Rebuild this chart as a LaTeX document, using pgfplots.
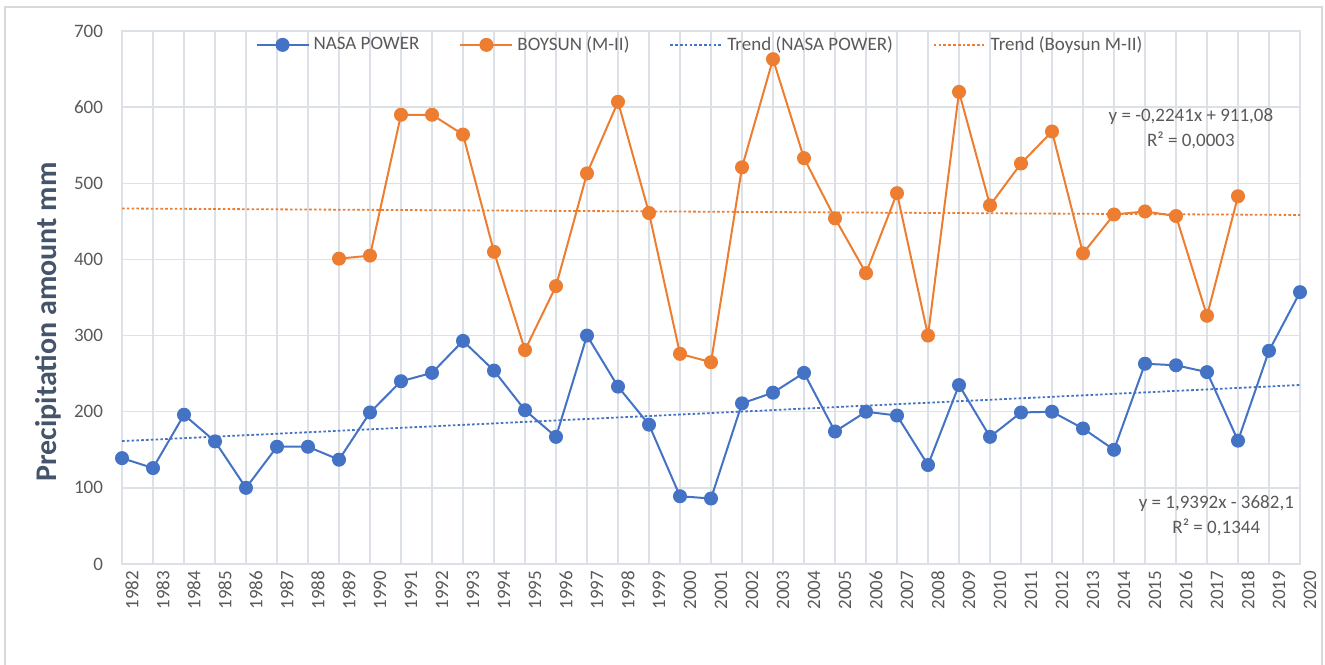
\documentclass[border=0pt]{standalone}
\usepackage{pgfplots}
\pgfplotsset{compat=1.18}
\usepackage{fontspec}
\setmainfont{Carlito}
\definecolor{nasa}{HTML}{4472C4}
\definecolor{boy}{HTML}{ED7D31}
\definecolor{gridc}{HTML}{DCE0E7}
\definecolor{tickc}{HTML}{595959}
\definecolor{labc}{HTML}{44546A}
\definecolor{bordc}{HTML}{D9D9D9}
\begin{document}
\begin{tikzpicture}
\path[use as bounding box] (0,0) rectangle (662.5pt,332pt);
\draw[bordc, line width=0.8pt] (2.5pt,-2pt) -- (2.5pt,328.5pt) -- (661pt,328.5pt) -- (661pt,-2pt);
\begin{axis}[
  at={(61pt,50pt)}, anchor=south west,
  scale only axis, width=589pt, height=266.5pt,
  xmin=1982, xmax=2020, ymin=0, ymax=700,
  xtick={1982,1983,...,2020}, ytick={0,100,...,700},
  grid=major, major grid style={gridc, line width=0.7pt},
  axis line style={gridc, line width=0.7pt},
  major tick length=0pt,
  /pgf/number format/assume math mode=true,
  /pgf/number format/1000 sep={},
  tick label style={font=\fontsize{9.5}{11}\selectfont, text=tickc},
  x tick label style={rotate=90, anchor=east, yshift=-5pt, xshift=0pt},
  y tick label style={xshift=-6pt},
  ylabel={Precipitation amount mm},
  ylabel style={at={(axis description cs:-0.0628,0.454)}, anchor=center, font=\fontsize{15}{18}\selectfont\bfseries, text=labc},
  legend columns=4,
  legend style={at={(0.4915,0.974)}, anchor=center, draw=none, fill=none,
    font=\fontsize{9.5}{11}\selectfont, text=tickc,
    /tikz/every even column/.append style={column sep=18pt}},
  legend cell align=left,
  legend image code/.code={\draw[mark repeat=2,mark phase=2] plot coordinates {(0pt,0pt) (13pt,0pt) (26pt,0pt)};},
]
\addplot[nasa, line width=1pt, mark=*, mark size=3pt, mark options={fill=nasa, draw=nasa, solid}] coordinates {
(1982,139) (1983,126) (1984,196) (1985,161) (1986,100) (1987,154) (1988,154) (1989,137) (1990,199) (1991,240)
(1992,251) (1993,293) (1994,254) (1995,202) (1996,167) (1997,300) (1998,233) (1999,183) (2000,89) (2001,86)
(2002,211) (2003,225) (2004,251) (2005,174) (2006,200) (2007,195) (2008,130) (2009,235) (2010,167) (2011,199)
(2012,200) (2013,178) (2014,150) (2015,263) (2016,261) (2017,252) (2018,162) (2019,280) (2020,357)};
\addlegendentry{NASA POWER}
\addplot[boy, line width=1pt, mark=*, mark size=3pt, mark options={fill=boy, draw=boy, solid}] coordinates {
(1989,401) (1990,405) (1991,590) (1992,590) (1993,564) (1994,410) (1995,281) (1996,365) (1997,513) (1998,607)
(1999,461) (2000,276) (2001,265) (2002,521) (2003,663) (2004,533) (2005,454) (2006,382) (2007,487) (2008,300)
(2009,620) (2010,471) (2011,526) (2012,568) (2013,408) (2014,459) (2015,463) (2016,457) (2017,326) (2018,483)};
\addlegendentry{BOYSUN (M-II)}
\addplot[nasa, line width=0.9pt, dash pattern=on 1.3pt off 1.1pt] coordinates {(1982,161.4) (2020,235.1)};
\addlegendentry{Trend (NASA POWER)}
\addplot[boy, line width=0.9pt, dash pattern=on 1.3pt off 1.1pt] coordinates {(1982,466.9) (2020,458.4)};
\addlegendentry{Trend (Boysun M-II)}
\node[align=center, text=tickc, font=\fontsize{9.5}{12.5}\selectfont] at (axis cs:2016.48,572) {y = -0,2241x + 911,08\\R² = 0,0003};
\node[align=center, text=tickc, font=\fontsize{9.5}{12.5}\selectfont] at (axis cs:2017.3,63) {y = 1,9392x - 3682,1\\R² = 0,1344};
\end{axis}
\end{tikzpicture}
\end{document}
